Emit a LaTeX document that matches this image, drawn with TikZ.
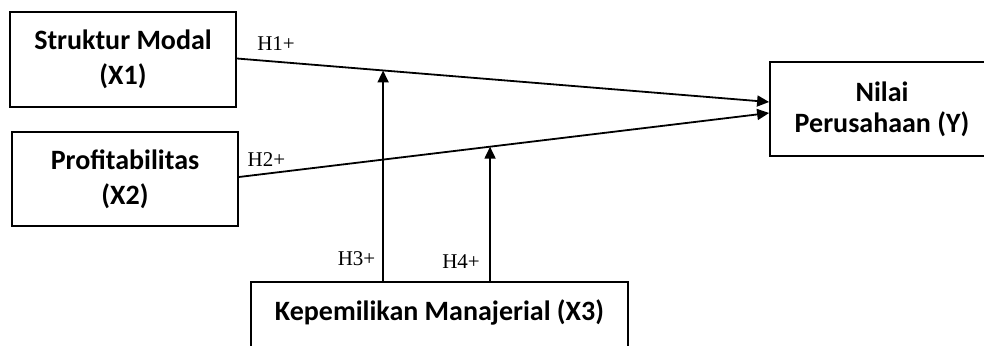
\documentclass[tikz,border=0pt]{standalone}
\usepackage{fontspec}
\setmainfont{Carlito}
\newfontfamily\hypfont{Liberation Serif}
\usetikzlibrary{arrows.meta,calc}

\tikzset{
  varbox/.style={draw, line width=1.8pt, align=center, inner sep=0pt,
    font=\fontsize{28}{35}\selectfont\bfseries},
  link/.style={line width=1.8pt, -{Triangle[length=12pt,width=11pt]}},
  hyp/.style={font=\hypfont\fontsize{21}{24}\selectfont, inner sep=0pt}
}

\begin{document}
\begin{tikzpicture}[x=1pt, y=-1pt]
  \useasboundingbox (0,0) rectangle (984,345);
  \clip (0,0) rectangle (984,345);

  % variable boxes
  \node[varbox, minimum width=226pt, minimum height=95pt] (x1) at (123,59.5)
    {Struktur Modal\\(X1)};
  \node[varbox, minimum width=226pt, minimum height=94pt] (x2) at (125,179)
    {Profitabilitas\\(X2)};
  \node[varbox, minimum width=224pt, minimum height=94pt,
        font=\fontsize{28}{31}\selectfont\bfseries] (y) at (882,109)
    {Nilai\\Perusahaan (Y)};
  \node[varbox, minimum width=377pt, minimum height=80pt,
        text height=20pt, text depth=24pt] (x3) at (439.5,322)
    {Kepemilikan Manajerial (X3)};

  % direct effects
  \coordinate (y1) at ($(y.west)+(0,-7)$);
  \coordinate (y2) at ($(y.west)+(0,4)$);
  \coordinate (s1) at ($(x1.east)+(0,-1)$);
  \coordinate (s2) at ($(x2.east)+(0,-2)$);
  \draw[link] (s1) -- (y1);
  \draw[link] (s2) -- (y2);

  % moderation points on the direct paths
  \path (s1) -- (y1) coordinate[pos=0.2747] (m1);
  \path (s2) -- (y2) coordinate[pos=0.4737] (m2);
  \draw[link] (m1 |- x3.north) -- (m1);
  \draw[link] (m2 |- x3.north) -- (m2);

  % hypothesis labels
  \node[hyp] (h1) at (276,44) {H1+};
  \node[hyp] (h2) at (266.5,160) {H2+};
  \node[hyp] (h3) at (356.5,258.5) {H3+};
  \node[hyp] (h4) at (461,261.5) {H4+};
\end{tikzpicture}
\end{document}
